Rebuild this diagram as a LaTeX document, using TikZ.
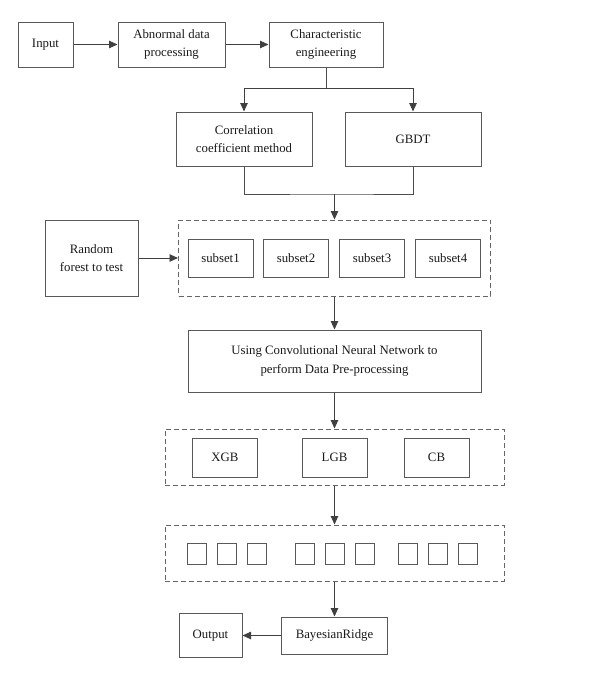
\documentclass[tikz,border=0pt]{standalone}
\usepackage{fontspec}
\setmainfont{Liberation Serif}
\usetikzlibrary{arrows.meta}
\begin{document}
\begin{tikzpicture}[x=1pt,y=-1pt,
  box/.style={draw=black!65,line width=1pt,rectangle,inner sep=0pt,align=center,font=\fontsize{12.8}{18.5}\selectfont,text=black!90},
  dbox/.style={draw=black!60,line width=1pt,dash pattern=on 5pt off 3pt,rectangle,inner sep=0pt},
  sq/.style={draw=black!65,line width=1pt,rectangle,inner sep=0pt,minimum width=19pt,minimum height=21pt},
  arr/.style={draw=black!75,line width=0.9pt,-{Triangle[length=8.5pt,width=7.5pt]}},
  ln/.style={draw=black!70,line width=0.9pt}]
\useasboundingbox (0,0) rectangle (600,678);
\node[box,minimum width=55pt,minimum height=45pt] (in) at (45.5,44.5) {Input};
\node[box,minimum width=107pt,minimum height=45pt] (ab) at (171.5,44.5) {Abnormal data\\processing};
\node[box,minimum width=114pt,minimum height=45pt] (ch) at (326,44.5) {Characteristic\\engineering};
\node[box,minimum width=136pt,minimum height=54pt] (co) at (244,139) {Correlation\\coefficient method};
\node[box,minimum width=136pt,minimum height=54pt] (gb) at (413,139) {GBDT};
\node[box,minimum width=93pt,minimum height=76pt] (rf) at (91.5,258) {Random\\forest to test};
\node[dbox,minimum width=312pt,minimum height=76pt] (d1) at (334.5,258) {};
\node[box,minimum width=65pt,minimum height=38pt] (s1) at (220.5,258) {subset1};
\node[box,minimum width=65pt,minimum height=38pt] (s2) at (296,258) {subset2};
\node[box,minimum width=65pt,minimum height=38pt] (s3) at (372,258) {subset3};
\node[box,minimum width=65pt,minimum height=38pt] (s4) at (448,258) {subset4};
\node[box,minimum width=293pt,minimum height=62pt] (cnn) at (334.5,361) {Using Convolutional Neural Network to\\perform Data Pre-processing};
\node[dbox,minimum width=339pt,minimum height=56pt] (d2) at (334.5,457) {};
\node[box,minimum width=65pt,minimum height=39pt] (xgb) at (225,457.5) {XGB};
\node[box,minimum width=65pt,minimum height=39pt] (lgb) at (334.5,457.5) {LGB};
\node[box,minimum width=65pt,minimum height=39pt] (cb) at (436.5,457.5) {CB};
\node[dbox,minimum width=339pt,minimum height=56pt] (d3) at (334.5,553) {};
\foreach \i/\x in {1/196.5,2/226.5,3/256.5,4/304.5,5/334.5,6/364.5,7/407.5,8/437.5,9/467.5}
  \node[sq] (q\i) at (\x,553.5) {};
\node[box,minimum width=106pt,minimum height=37pt] (br) at (334.5,635.5) {BayesianRidge};
\node[box,minimum width=63pt,minimum height=44pt] (out) at (210.5,635.5) {Output};
\coordinate (b) at (326,88);
\coordinate (m) at (334.5,194);
\draw[arr] (in) -- (ab);
\draw[arr] (ab) -- (ch);
\draw[ln] (ch.south) -- (b);
\draw[arr] (b) -| (co.north);
\draw[arr] (b) -| (gb.north);
\draw[ln] (co.south) |- (m) -| (gb.south);
\draw[arr] (m) -- (d1.north);
\draw[arr] (rf.east) -- (d1.west);
\draw[arr] (d1.south) -- (cnn.north);
\draw[arr] (cnn.south) -- (d2.north);
\draw[arr] (d2.south) -- (d3.north);
\draw[arr] (d3.south) -- (br.north);
\draw[arr] (br.west) -- (out.east);
\end{tikzpicture}
\end{document}
